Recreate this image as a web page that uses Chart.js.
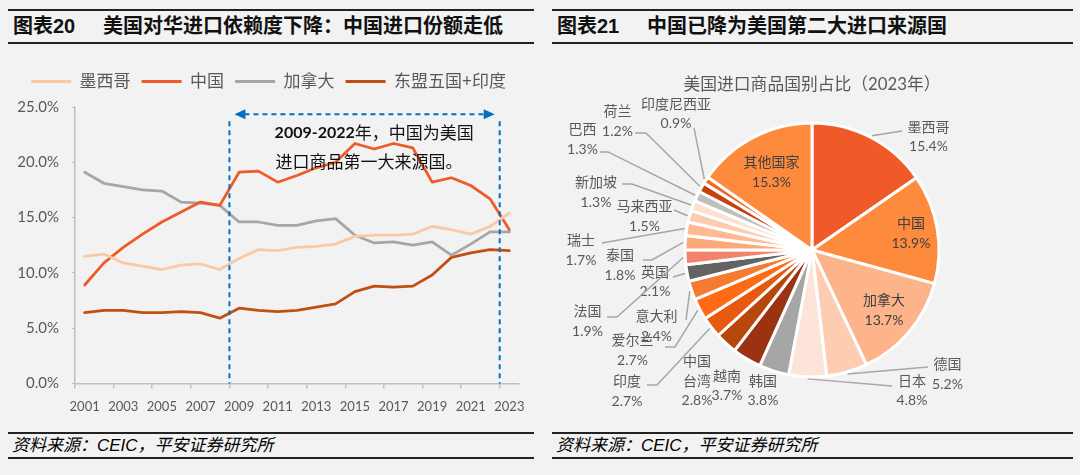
<!DOCTYPE html>
<html>
<head>
<meta charset="utf-8">
<script src="https://cdn.jsdelivr.net/npm/chart.js@4.4.1/dist/chart.umd.min.js"></script>
<style>
html, body { margin: 0; padding: 0; background: #f2f2f2; }
body { width: 1080px; height: 475px; position: relative; overflow: hidden;
       font-family: "Liberation Sans", "Noto Sans CJK SC", sans-serif; }
.hdr { position: absolute; top: 9px; height: 31px; border-top: 2px solid #222; border-bottom: 2px solid #222; }
.hdr span { position: absolute; top: 0; line-height: 31px; font-size: 20px; font-weight: bold; color: #111; white-space: nowrap; }
.ftr { position: absolute; top: 432px; height: 23px; border-top: 2px solid #222; border-bottom: 2px solid #222; }
.ftr span { position: absolute; left: 4px; top: 0; line-height: 23px; font-size: 17px; font-style: italic; color: #000; white-space: nowrap; }
canvas { position: absolute; top: 46px; }
</style>
</head>
<body>

<div class="hdr" style="left:8px;width:526px"><span style="left:5px">图表20</span><span style="left:95px">美国对华进口依赖度下降：中国进口份额走低</span></div>
<div class="hdr" style="left:552px;width:521px"><span style="left:5px">图表21</span><span style="left:95px">中国已降为美国第二大进口来源国</span></div>

<canvas id="lineChart" width="540" height="380" style="left:0px;width:540px;height:380px"></canvas>
<canvas id="pieChart" width="521" height="380" style="left:552px;width:521px;height:380px"></canvas>

<div class="ftr" style="left:8px;width:526px"><span>资料来源：CEIC，平安证券研究所</span></div>
<div class="ftr" style="left:552px;width:521px"><span>资料来源：CEIC，平安证券研究所</span></div>

<script>
// ---- left chart data: share of US imports (%) ----
const years = ['2001','2002','2003','2004','2005','2006','2007','2008','2009','2010','2011','2012',
               '2013','2014','2015','2016','2017','2018','2019','2020','2021','2022','2023'];
const mexicoShare = [11.5, 11.7, 10.9, 10.6, 10.3, 10.7, 10.8, 10.3, 11.3, 12.1, 12.0, 12.3,
                     12.4, 12.6, 13.3, 13.4, 13.4, 13.5, 14.2, 13.9, 13.5, 14.2, 15.4];
const chinaShare  = [8.9, 10.9, 12.3, 13.5, 14.6, 15.5, 16.4, 16.1, 19.1, 19.2, 18.2, 18.8,
                     19.5, 20.0, 21.7, 21.2, 21.7, 21.3, 18.2, 18.6, 17.9, 16.7, 13.9];
const canadaShare = [19.1, 18.1, 17.8, 17.5, 17.4, 16.4, 16.3, 16.1, 14.6, 14.6, 14.3, 14.3,
                     14.7, 14.9, 13.4, 12.7, 12.8, 12.5, 12.8, 11.6, 12.6, 13.7, 13.7];
const aseanShare  = [6.4, 6.6, 6.6, 6.4, 6.4, 6.5, 6.4, 5.9, 6.8, 6.6, 6.5, 6.6,
                     6.9, 7.2, 8.3, 8.8, 8.7, 8.8, 9.8, 11.4, 11.8, 12.1, 12.0];
const yTicks = [0, 5, 10, 15, 20, 25];
const noteSpan = ['2009', '2022'];
const noteLines = ['2009-2022', '年，中国为美国', '进口商品第一大来源国。'];

// ---- right chart data: US imports by origin, 2023 (%) ----
const pieLabels = ['墨西哥','中国','加拿大','德国','日本','韩国','越南','中国台湾','印度','爱尔兰','意大利',
                   '英国','法国','泰国','瑞士','马来西亚','新加坡','巴西','荷兰','印度尼西亚','其他国家'];
const pieValues = [15.4, 13.9, 13.7, 5.2, 4.8, 3.8, 3.7, 2.8, 2.7, 2.7, 2.4,
                   2.1, 1.9, 1.8, 1.7, 1.5, 1.3, 1.3, 1.2, 0.9, 15.3];

const pieColors = ['#f05a28','#fe8a3e','#fdb48a','#fdcdb2','#fde4d8','#a6a6a6','#9b3313','#b8470c',
                   '#e65a0f','#ff6b14','#f67b31','#636363','#f2826a','#fda878','#fdba94','#fdcbad',
                   '#fde0d0','#bfbfbf','#c4410c','#f26522','#fe8a3e'];

// label placement around the pie (offsets from pie centre), leader points likewise
const pieLabelLayout = {
  '墨西哥':   { dx: 116.5, dy: -113, lead: [[90, -119]] },
  '中国':     { inside: 0.79 },
  '加拿大':   { inside: 0.74 },
  '德国':     { dx: 135.5, dy: 124.5, lead: [[116, 117]] },
  '日本':     { dx: 100, dy: 141, lead: [[80, 136]] },
  '韩国':     { dx: -49, dy: 141 },
  '越南':     { dx: -85, dy: 136 },
  '中国台湾': { dx: -115, dy: 131.5, lines: ['中国', '台湾'] },
  '印度':     { dx: -185, dy: 141.5, lead: [[-165, 135], [-155, 135]] },
  '爱尔兰':   { dx: -179.5, dy: 100.5, lead: [[-147, 97], [-137, 97]] },
  '意大利':   { dx: -155.5, dy: 76.5, lead: [[-126, 70]] },
  '英国':     { dx: -157, dy: 32, lead: [[-139, 27]] },
  '法国':     { dx: -224.5, dy: 71.5, lead: [[-205, 67], [-195, 67]] },
  '泰国':     { dx: -192, dy: 15.5, lead: [[-169, 10], [-160, 10]] },
  '瑞士':     { dx: -231, dy: 0.5, lead: [[-210, -7]] },
  '马来西亚': { dx: -167.5, dy: -33.5, lead: [[-138, -40]] },
  '新加坡':   { dx: -216, dy: -57.5, lead: [[-190, -66], [-180, -66]] },
  '巴西':     { dx: -229.5, dy: -110.5, lead: [[-212, -98], [-204, -98]] },
  '荷兰':     { dx: -194.5, dy: -128.5, lead: [[-177, -117], [-166, -117]] },
  '印度尼西亚': { dx: -136, dy: -136, lead: [[-118, -122]] },
  '其他国家': { inside: 0.69 }
};

Chart.defaults.font.family = 'Lato, "Noto Sans CJK SC", sans-serif';
Chart.defaults.color = '#595959';

// give the legend a bit more room below it
const legendGap = {
  id: 'legendGap',
  beforeInit(chart) {
    const fit = chart.legend.fit;
    chart.legend.fit = function () {
      fit.bind(chart.legend)();
      this.height += 7;
    };
  }
};

// blue dashed bracket + note for 2009-2022
const noteBracket = {
  id: 'noteBracket',
  afterDatasetsDraw(chart) {
    const { ctx, scales: { x, y } } = chart;
    const half = (x.getPixelForValue(1) - x.getPixelForValue(0)) / 2;
    const xl = x.getPixelForValue(years.indexOf(noteSpan[0])) - half;
    const xr = x.getPixelForValue(years.indexOf(noteSpan[1])) + half;
    const yTop = y.getPixelForValue(23.7);
    const yArrow = y.getPixelForValue(24.35);
    const yBot = y.getPixelForValue(0);

    ctx.save();
    ctx.strokeStyle = '#0070c0';
    ctx.fillStyle = '#0070c0';
    ctx.lineWidth = 2;
    ctx.setLineDash([5, 4]);
    ctx.beginPath();
    ctx.moveTo(xl, yTop); ctx.lineTo(xl, yBot);
    ctx.moveTo(xr, yTop); ctx.lineTo(xr, yBot);
    ctx.moveTo(xl + 15, yArrow); ctx.lineTo(xr - 15, yArrow);
    ctx.stroke();
    ctx.setLineDash([]);
    // arrow heads
    ctx.beginPath();
    ctx.moveTo(xl + 5, yArrow); ctx.lineTo(xl + 16, yArrow - 5); ctx.lineTo(xl + 16, yArrow + 5); ctx.closePath();
    ctx.moveTo(xr - 5, yArrow); ctx.lineTo(xr - 16, yArrow - 5); ctx.lineTo(xr - 16, yArrow + 5); ctx.closePath();
    ctx.fill();

    // note text
    const tx = x.getPixelForValue(9.84);
    ctx.fillStyle = '#111';
    ctx.textBaseline = 'middle';
    ctx.textAlign = 'left';
    ctx.font = 'bold 16px Lato';
    const y1 = y.getPixelForValue(22.7);
    ctx.fillText(noteLines[0], tx, y1);
    const w = ctx.measureText(noteLines[0]).width;
    ctx.font = '17px "Noto Sans CJK SC"';
    ctx.fillText(noteLines[1], tx + w, y1);
    ctx.fillText(noteLines[2], tx + 1, y.getPixelForValue(20.1));
    ctx.restore();
  }
};

new Chart(document.getElementById('lineChart'), {
  type: 'line',
  data: {
    labels: years,
    datasets: [
      { label: '墨西哥', data: mexicoShare, borderColor: '#fbc8a6', backgroundColor: '#fbc8a6' },
      { label: '中国', data: chinaShare, borderColor: '#ef5a28', backgroundColor: '#ef5a28' },
      { label: '加拿大', data: canadaShare, borderColor: '#a6a6a6', backgroundColor: '#a6a6a6' },
      { label: '东盟五国+印度', data: aseanShare, borderColor: '#c24f12', backgroundColor: '#c24f12' }
    ]
  },
  options: {
    responsive: false,
    animation: false,
    devicePixelRatio: 1,
    layout: { padding: { left: 18, right: 21, top: 16, bottom: 0 } },
    elements: {
      line: { borderWidth: 2.75, tension: 0, borderJoinStyle: 'round', borderCapStyle: 'round' },
      point: { radius: 0 }
    },
    plugins: {
      tooltip: { enabled: false },
      legend: {
        position: 'top',
        labels: {
          boxWidth: 40,
          boxHeight: 3,
          padding: 11,
          color: '#595959',
          font: { size: 17 },
          generateLabels: chart => chart.data.datasets.map((ds, i) => ({
            text: ds.label,
            fillStyle: ds.borderColor,
            strokeStyle: ds.borderColor,
            lineWidth: 0,
            hidden: false,
            datasetIndex: i,
            fontColor: '#595959'
          }))
        }
      }
    },
    scales: {
      x: {
        offset: true,
        grid: {
          offset: true,
          drawOnChartArea: false,
          tickLength: 5,
          lineWidth: 1.5,
          color: ctx => (ctx.index % 2 === 0 ? '#bfbfbf' : 'rgba(0,0,0,0)')
        },
        border: { color: '#bfbfbf', width: 1.5 },
        ticks: {
          autoSkip: false,
          maxRotation: 0,
          padding: 11,
          color: '#595959',
          font: { size: 13 },
          callback: (v, i) => (i % 2 === 0 ? years[i] : '')
        }
      },
      y: {
        min: 0,
        max: 25,
        afterBuildTicks: scale => { scale.ticks = yTicks.map(v => ({ value: v })); },
        afterFit: scale => { scale.width = 57; },
        grid: { drawOnChartArea: false, tickLength: 3, color: '#bfbfbf' },
        border: { color: '#bfbfbf', width: 1.5 },
        ticks: {
          padding: 13,
          color: '#595959',
          font: { size: 15 },
          callback: v => v.toFixed(1) + '%'
        }
      }
    }
  },
  plugins: [legendGap, noteBracket]
});

// labels + leader lines for the pie
const pieLabelDraw = {
  id: 'pieLabelDraw',
  afterDraw(chart) {
    const { ctx } = chart;
    const meta = chart.getDatasetMeta(0);
    ctx.save();
    ctx.textAlign = 'center';
    ctx.textBaseline = 'middle';
    ctx.font = '14px Lato, "Noto Sans CJK SC"';
    meta.data.forEach((arc, i) => {
      const { x, y, startAngle, endAngle, outerRadius } =
        arc.getProps(['x', 'y', 'startAngle', 'endAngle', 'outerRadius'], true);
      const mid = (startAngle + endAngle) / 2;
      const name = pieLabels[i];
      const L = pieLabelLayout[name];
      let cx, cy;
      if (L.inside) {
        cx = x + Math.cos(mid) * outerRadius * L.inside;
        cy = y + Math.sin(mid) * outerRadius * L.inside;
      } else {
        cx = x + L.dx;
        cy = y + L.dy;
      }
      if (L.lead) {
        ctx.strokeStyle = '#a6a6a6';
        ctx.lineWidth = 1.5;
        ctx.beginPath();
        L.lead.forEach((p, k) => (k === 0 ? ctx.moveTo(x + p[0], y + p[1]) : ctx.lineTo(x + p[0], y + p[1])));
        ctx.lineTo(x + Math.cos(mid) * (outerRadius + 2), y + Math.sin(mid) * (outerRadius + 2));
        ctx.stroke();
      }
      const lines = (L.lines || [name]).concat(pieValues[i].toFixed(1) + '%');
      const step = L.inside ? 20 : 19.5;
      ctx.fillStyle = L.inside ? '#404040' : '#595959';
      lines.forEach((t, k) => ctx.fillText(t, cx, cy + (k - (lines.length - 1) / 2) * step));
    });
    ctx.restore();
  }
};

new Chart(document.getElementById('pieChart'), {
  type: 'pie',
  data: {
    labels: pieLabels,
    datasets: [{ data: pieValues, backgroundColor: pieColors, borderColor: '#ffffff', borderWidth: 3 }]
  },
  options: {
    responsive: false,
    animation: false,
    devicePixelRatio: 1,
    layout: { padding: { left: 131.5, right: 132.5, top: 10, bottom: 47.5 } },
    plugins: {
      legend: { display: false },
      tooltip: { enabled: false },
      title: {
        display: true,
        text: '美国进口商品国别占比（2023年）',
        color: '#595959',
        font: { size: 17, weight: 'normal' },
        padding: { top: 18, bottom: 27 }
      }
    }
  },
  plugins: [pieLabelDraw]
});
</script>
</body>
</html>
